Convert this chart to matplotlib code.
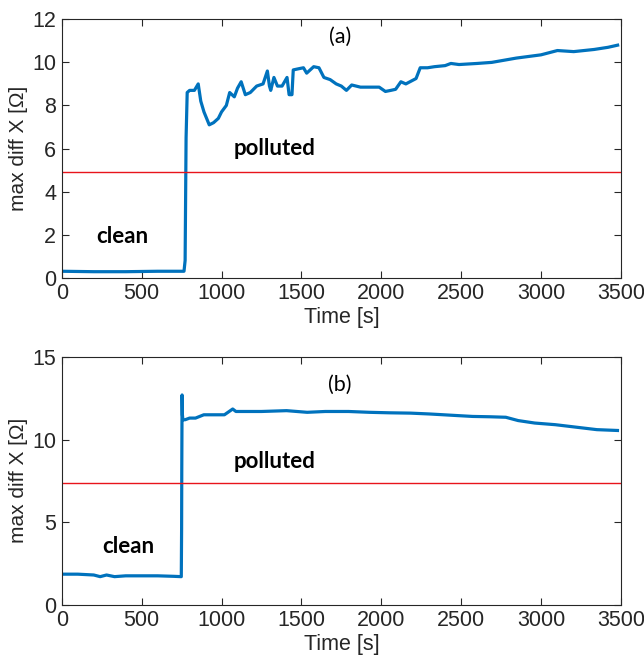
import matplotlib
matplotlib.use('Agg')
import matplotlib.pyplot as plt

# (a) readings
t_a = [0, 200, 400, 600, 765, 772, 778, 785, 800, 830, 854, 870, 890, 923, 950, 980,
       1000, 1030, 1051, 1080, 1100, 1123, 1149, 1180, 1220, 1260, 1287, 1300, 1308,
       1328, 1350, 1379, 1410, 1423, 1441, 1449, 1480, 1513, 1533, 1577, 1610, 1641,
       1680, 1718, 1750, 1782, 1815, 1870, 1923, 1987, 2026, 2060, 2090, 2123, 2154,
       2218, 2244, 2290, 2333, 2400, 2436, 2487, 2600, 2692, 2846, 3000, 3103, 3205,
       3333, 3420, 3480]
x_a = [0.3, 0.28, 0.28, 0.3, 0.3, 0.8, 6.5, 8.6, 8.7, 8.7, 9.0, 8.2, 7.7, 7.1, 7.2, 7.4,
       7.7, 8.0, 8.6, 8.4, 8.8, 9.1, 8.5, 8.6, 8.9, 9.0, 9.6, 8.9, 8.7,
       9.3, 8.9, 8.9, 9.3, 8.5, 8.5, 9.65, 9.7, 9.75, 9.5, 9.8, 9.75, 9.3,
       9.2, 9.0, 8.9, 8.7, 8.95, 8.85, 8.85, 8.85, 8.65, 8.7, 8.75, 9.1, 9.0,
       9.25, 9.75, 9.75, 9.8, 9.85, 9.95, 9.9, 9.95, 10.0, 10.2, 10.35, 10.55, 10.5,
       10.6, 10.7, 10.8]

# (b)
t_b = [0, 100, 200, 240, 280, 330, 400, 500, 600, 700, 748, 750, 751, 753, 755, 758,
       772, 800, 837, 889, 950, 1018, 1070, 1090, 1122, 1250, 1407, 1536, 1650, 1795,
       1925, 2050, 2184, 2300, 2391, 2480, 2572, 2680, 2780, 2857, 2961, 3090, 3220,
       3350, 3479]
x_b = [1.85, 1.85, 1.8, 1.7, 1.8, 1.7, 1.75, 1.75, 1.75, 1.72, 1.7, 4.6, 8.0, 12.7, 11.5, 11.2,
       11.2, 11.3, 11.3, 11.5, 11.5, 11.5, 11.85, 11.7, 11.7, 11.7, 11.75, 11.65, 11.7, 11.7,
       11.65, 11.62, 11.6, 11.55, 11.5, 11.45, 11.4, 11.38, 11.35, 11.15, 11.0, 10.9, 10.75,
       10.6, 10.55]

thr_a = 4.9
thr_b = 7.4

blue = '#0072BD'
tick_font = ['Liberation Sans', 'DejaVu Sans']
note_font = ['Lato', 'DejaVu Sans']

fig = plt.figure(figsize=(6.44, 6.66), dpi=100)
ax1 = fig.add_axes([0.096, 0.583, 0.868, 0.388])
ax2 = fig.add_axes([0.096, 0.092, 0.868, 0.372])


def style(ax, ylim, yticks):
    ax.set_xlim(0, 3500)
    ax.set_ylim(*ylim)
    ax.set_xticks(range(0, 3501, 500))
    ax.set_yticks(yticks)
    ax.tick_params(direction='in', top=True, right=True, length=5, width=0.8,
                   colors='#262626', labelsize=15.5, pad=4)
    for lab in ax.get_xticklabels() + ax.get_yticklabels():
        lab.set_family(tick_font)
    for s in ax.spines.values():
        s.set_color('#262626')
        s.set_linewidth(0.8)
    ax.set_xlabel('Time [s]', fontsize=15.5, family=tick_font, color='#262626', labelpad=2)
    ax.set_ylabel('max diff X [\u03a9]', fontsize=15, family=tick_font, color='#262626',
                  labelpad=3)


ax1.plot(t_a, x_a, color=blue, lw=2.3)
ax1.axhline(thr_a, color='#E8141B', lw=1.0)
style(ax1, (0, 12), range(0, 13, 2))
ax1.text(1740, 11.2, '(a)', ha='center', va='center', fontsize=15.5, family=note_font)
ax1.text(1330, 6.0, 'polluted', ha='center', va='center', fontsize=16,
         fontweight='bold', family=note_font)
ax1.text(380, 1.9, 'clean', ha='center', va='center', fontsize=16,
         fontweight='bold', family=note_font)

ax2.plot(t_b, x_b, color=blue, lw=2.3)
ax2.axhline(thr_b, color='#E8141B', lw=1.0)
style(ax2, (0, 15), range(0, 16, 5))
ax2.text(1740, 13.3, '(b)', ha='center', va='center', fontsize=15.5, family=note_font)
ax2.text(1330, 8.7, 'polluted', ha='center', va='center', fontsize=16,
         fontweight='bold', family=note_font)
ax2.text(415, 3.5, 'clean', ha='center', va='center', fontsize=16,
         fontweight='bold', family=note_font)

fig.savefig('out.png', dpi=100)
